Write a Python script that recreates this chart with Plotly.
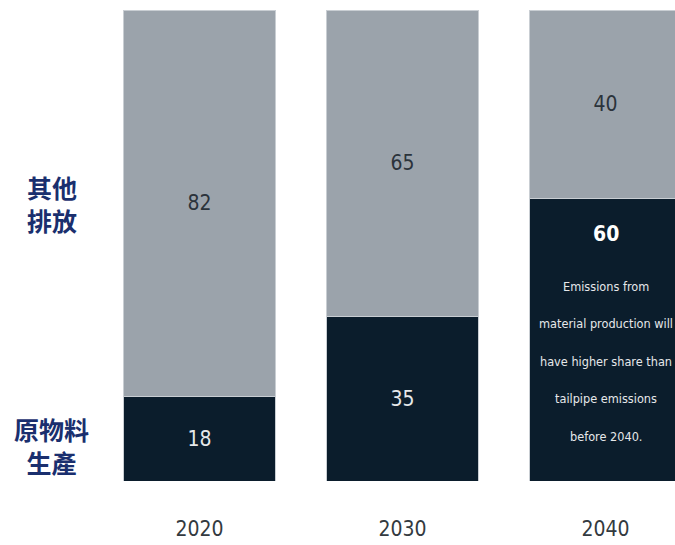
import plotly.graph_objects as go

years = ["2020", "2030", "2040"]
material = [18, 35, 60]
other = [82, 65, 40]
note_lines = ["Emissions from", "material production will", "have higher share than",
              "tailpipe emissions", "before 2040."]
row_labels = ["其他<br>排放", "原物料<br>生產"]

DARK = "#0b1d2c"
GRAY = "#9ba3ab"
NARROW = "DejaVu Sans Condensed, Liberation Sans Narrow, Roboto, sans-serif"

fig = go.Figure()
fig.add_trace(go.Bar(
    x=years, y=material, marker=dict(color=DARK, line=dict(color="#c9ced3", width=1)),
    text=[str(v) if i < 2 else "" for i, v in enumerate(material)],
    textposition="inside", insidetextanchor="middle", textangle=0,
    textfont=dict(family=NARROW, size=21, color="#e6e8ea"), width=0.75,
    hoverinfo="skip"))
fig.add_trace(go.Bar(
    x=years, y=other, marker=dict(color=GRAY, line=dict(color="#c9ced3", width=1)),
    text=[str(v) for v in other],
    textposition="inside", insidetextanchor="middle", textangle=0,
    textfont=dict(family=NARROW, size=21, color="#2b333b"), width=0.75,
    hoverinfo="skip"))

# bold value and note for 2040
fig.add_annotation(x=2, y=material[2], xref="x", yref="y", text="<b>" + str(material[2]) + "</b>",
                   showarrow=False, yshift=-36, font=dict(family=NARROW, size=21, color="#ffffff"))
for i, line in enumerate(note_lines):
    fig.add_annotation(x=2, y=material[2], xref="x", yref="y", text=line, showarrow=False,
                       yshift=-88 - 37.5 * i, font=dict(family=NARROW, size=12.6, color="#e6e8ea"))

# row labels
fig.add_annotation(xref="paper", x=-0.08, xanchor="center", y=(material[0] + 100) / 2, yref="y",
                   text="<b>" + row_labels[0] + "</b>",
                   showarrow=False, font=dict(family="Noto Sans CJK TC", size=25, color="#1a2f6e"))
fig.add_annotation(xref="paper", x=-0.08, xanchor="center", y=material[0] / 2, yref="y", yshift=-7,
                   text="<b>" + row_labels[1] + "</b>",
                   showarrow=False, font=dict(family="Noto Sans CJK TC", size=25, color="#1a2f6e"))

fig.update_layout(
    barmode="stack", width=675, height=545,
    margin=dict(l=98, r=0, t=10, b=64),
    plot_bgcolor="white", paper_bgcolor="white", showlegend=False,
    xaxis=dict(type="category", range=[-0.5, 2.342], showgrid=False, zeroline=False, showline=False,
               ticks="", ticklabelstandoff=33,
               tickfont=dict(family=NARROW, size=21, color="#333a40")),
    yaxis=dict(range=[0, 100], visible=False),
)
fig.write_html("out.html")
